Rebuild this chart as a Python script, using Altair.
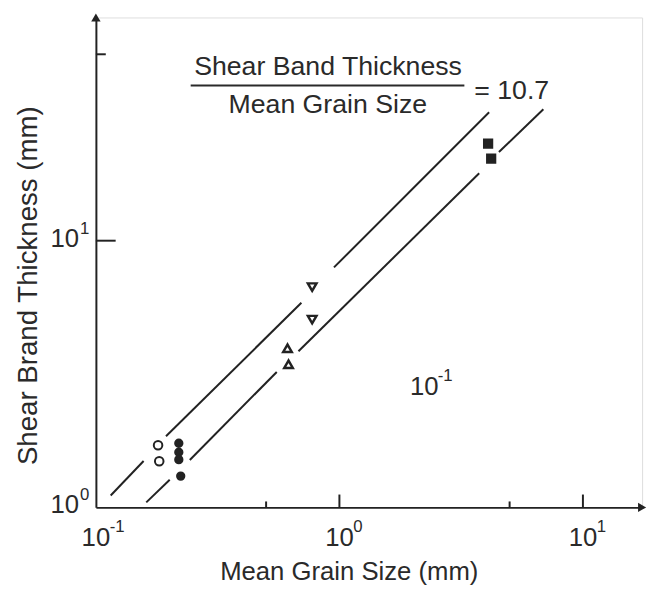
import altair as alt
import pandas as pd

FONT = "Liberation Sans"
TXT = "#2a2a2a"
INK = "#222222"

# ---- data ----
# line segments (gaps where the markers sit)
upper_x1 = [0.115, 0.194, 0.950]
upper_y1 = [1.108, 1.848, 7.94]
upper_x2 = [0.157, 0.698, 4.12]
upper_y2 = [1.493, 5.85, 30.3]

lower_x1 = [0.161, 0.243, 0.679, 4.52]
lower_y1 = [1.044, 1.506, 3.85, 21.5]
lower_x2 = [0.201, 0.553, 3.75, 6.88]
lower_y2 = [1.27, 3.22, 17.9, 31.1]

# markers
open_circle_x = [0.180, 0.182]
open_circle_y = [1.71, 1.49]
filled_circle_x = [0.219, 0.219, 0.219, 0.223]
filled_circle_y = [1.74, 1.61, 1.51, 1.31]
tri_down_x = [0.773, 0.773]
tri_down_y = [6.70, 5.06]
tri_up_x = [0.612, 0.618]
tri_up_y = [3.95, 3.44]
square_x = [4.08, 4.20]
square_y = [23.1, 20.3]

# axes
x_domain = [0.1, 17.5]
y_domain = [1, 68.7]
x_tick_major = [1, 10]
x_tick_minor = [0.5, 5]
y_tick_major = [10]
y_tick_minor = [50]
x_label_vals = [0.1, 1, 10]
x_label_exp = ["-1", "0", "1"]
y_label_vals = [1, 10]
y_label_exp = ["0", "1"]

# annotation anchors (data coordinates)
numerator = {"x": 0.898, "y": 41.9, "t": "Shear Band Thickness"}
denominator = {"x": 0.896, "y": 30.05, "t": "Mean Grain Size"}
frac_bar = {"x1": 0.245, "x2": 3.26, "y": 38.15}
equals = {"x": 3.58, "y": 33.86, "t": "= 10.7"}
floating = {"x": 1.95, "y": 2.645, "t": "10", "e": "-1"}

W, H = 553, 496

xs = alt.Scale(type="log", domain=x_domain, nice=False, zero=False)
ys = alt.Scale(type="log", domain=y_domain, nice=False, zero=False)

xaxis = alt.Axis(title="Mean Grain Size (mm)", labels=False, ticks=False, grid=False,
                 domainColor=INK, domainWidth=2, titleFont=FONT, titleFontSize=26,
                 titleFontWeight="normal", titleColor=TXT, titleX=256, titleY=73,
                 titleBaseline="alphabetic", titleAlign="center")
yaxis = alt.Axis(title="Shear Brand Thickness (mm)", labels=False, ticks=False, grid=False,
                 domainColor=INK, domainWidth=2, titleFont=FONT, titleFontSize=28,
                 titleFontWeight="normal", titleColor=TXT, titleX=-68, titleY=271,
                 titleAngle=270, titleBaseline="middle", titleAlign="center")


def X(field, **kw):
    return alt.X(field, scale=xs, axis=xaxis, **kw)


def Y(field, **kw):
    return alt.Y(field, scale=ys, axis=yaxis, **kw)


seg_df = pd.DataFrame({
    "x1": upper_x1 + lower_x1, "y1": upper_y1 + lower_y1,
    "x2": upper_x2 + lower_x2, "y2": upper_y2 + lower_y2,
})
segments = alt.Chart(seg_df).mark_rule(color=INK, strokeWidth=2).encode(
    x=X("x1:Q"), y=Y("y1:Q"), x2="x2:Q", y2="y2:Q",
)


def marker_layer(xv, yv, shape, fill, size, sw=2):
    df = pd.DataFrame({"x": xv, "y": yv})
    return alt.Chart(df).mark_point(shape=shape, filled=True, fill=fill, stroke=INK,
                                    strokeWidth=sw, opacity=1, size=size).encode(
        x=X("x:Q"), y=Y("y:Q"))


markers = [
    marker_layer(open_circle_x, open_circle_y, "circle", "white", 75),
    marker_layer(filled_circle_x, filled_circle_y, "circle", INK, 55),
    marker_layer(tri_down_x, tri_down_y, "triangle-down", "white", 75, 2.5),
    marker_layer(tri_up_x, tri_up_y, "triangle-up", "white", 75, 2.5),
    marker_layer(square_x, square_y, "square", INK, 70),
]

# arrows at the axis ends
arrow_r = alt.Chart(pd.DataFrame({"x": [x_domain[1]], "y": [y_domain[0]]})).mark_point(
    shape="triangle-right", filled=True, color=INK, opacity=1, size=90).encode(
    x=X("x:Q"), y=Y("y:Q"))
arrow_u = alt.Chart(pd.DataFrame({"x": [x_domain[0]], "y": [y_domain[1]]})).mark_point(
    shape="triangle-up", filled=True, color=INK, opacity=1, size=90).encode(
    x=X("x:Q"), y=Y("y:Q"))


def xticks(vals, length):
    return alt.Chart(pd.DataFrame({"v": vals})).mark_rule(color=INK, strokeWidth=2).encode(
        x=X("v:Q"), y=alt.value(H), y2=alt.value(H - length))


def yticks(vals, length):
    return alt.Chart(pd.DataFrame({"v": vals})).mark_rule(color=INK, strokeWidth=2).encode(
        y=Y("v:Q"), x=alt.value(0), x2=alt.value(length))


ticks = [xticks(x_tick_major, 13), xticks(x_tick_minor, 6),
         yticks(y_tick_major, 20), yticks(y_tick_minor, 10)]

xl_df = pd.DataFrame({"v": x_label_vals, "e": x_label_exp, "b": ["10"] * len(x_label_vals)})
xl_base = alt.Chart(xl_df).mark_text(font=FONT, fontSize=26, color=TXT, align="center",
                                     baseline="alphabetic", dy=39).encode(
    x=X("v:Q"), y=alt.value(H), text="b:N")
xl_exp = alt.Chart(xl_df).mark_text(font=FONT, fontSize=17, color=TXT, align="left",
                                    baseline="alphabetic", dx=14, dy=25).encode(
    x=X("v:Q"), y=alt.value(H), text="e:N")

yl_df = pd.DataFrame({"v": y_label_vals, "e": y_label_exp, "b": ["10"] * len(y_label_vals)})
yl_base = alt.Chart(yl_df).mark_text(font=FONT, fontSize=26, color=TXT, align="right",
                                     baseline="middle", dx=-17, dy=-2).encode(
    y=Y("v:Q"), x=alt.value(0), text="b:N")
yl_exp = alt.Chart(yl_df).mark_text(font=FONT, fontSize=17, color=TXT, align="left",
                                    baseline="middle", dx=-16, dy=-12).encode(
    y=Y("v:Q"), x=alt.value(0), text="e:N")


def label(d, size=27, align="center", dx=0, dy=0, key="t"):
    df = pd.DataFrame({"x": [d["x"]], "y": [d["y"]], "t": [d[key]]})
    return alt.Chart(df).mark_text(font=FONT, fontSize=size, color=TXT, align=align,
                                   baseline="alphabetic", dx=dx, dy=dy).encode(
        x=X("x:Q"), y=Y("y:Q"), text="t:N")


bar_df = pd.DataFrame([frac_bar])
bar = alt.Chart(bar_df).mark_rule(color=TXT, strokeWidth=2).encode(
    x=X("x1:Q"), x2="x2:Q", y=Y("y:Q"))

annots = [
    label(numerator), label(denominator), bar,
    label(equals, align="left"),
    label(floating, size=26, align="left"),
    label(floating, size=17, align="left", dx=28, dy=-14, key="e"),
]

chart = alt.layer(segments, *markers, arrow_r, arrow_u, *ticks, xl_base, xl_exp, yl_base,
                  yl_exp, *annots).properties(
    width=W, height=H,
    autosize=alt.AutoSizeParams(type="none"),
    padding={"left": 89, "top": 6, "right": 8, "bottom": 76},
).configure_view(stroke=None).configure(background="white")

chart.save("out.html", embed_options={"renderer": "svg", "actions": False})
